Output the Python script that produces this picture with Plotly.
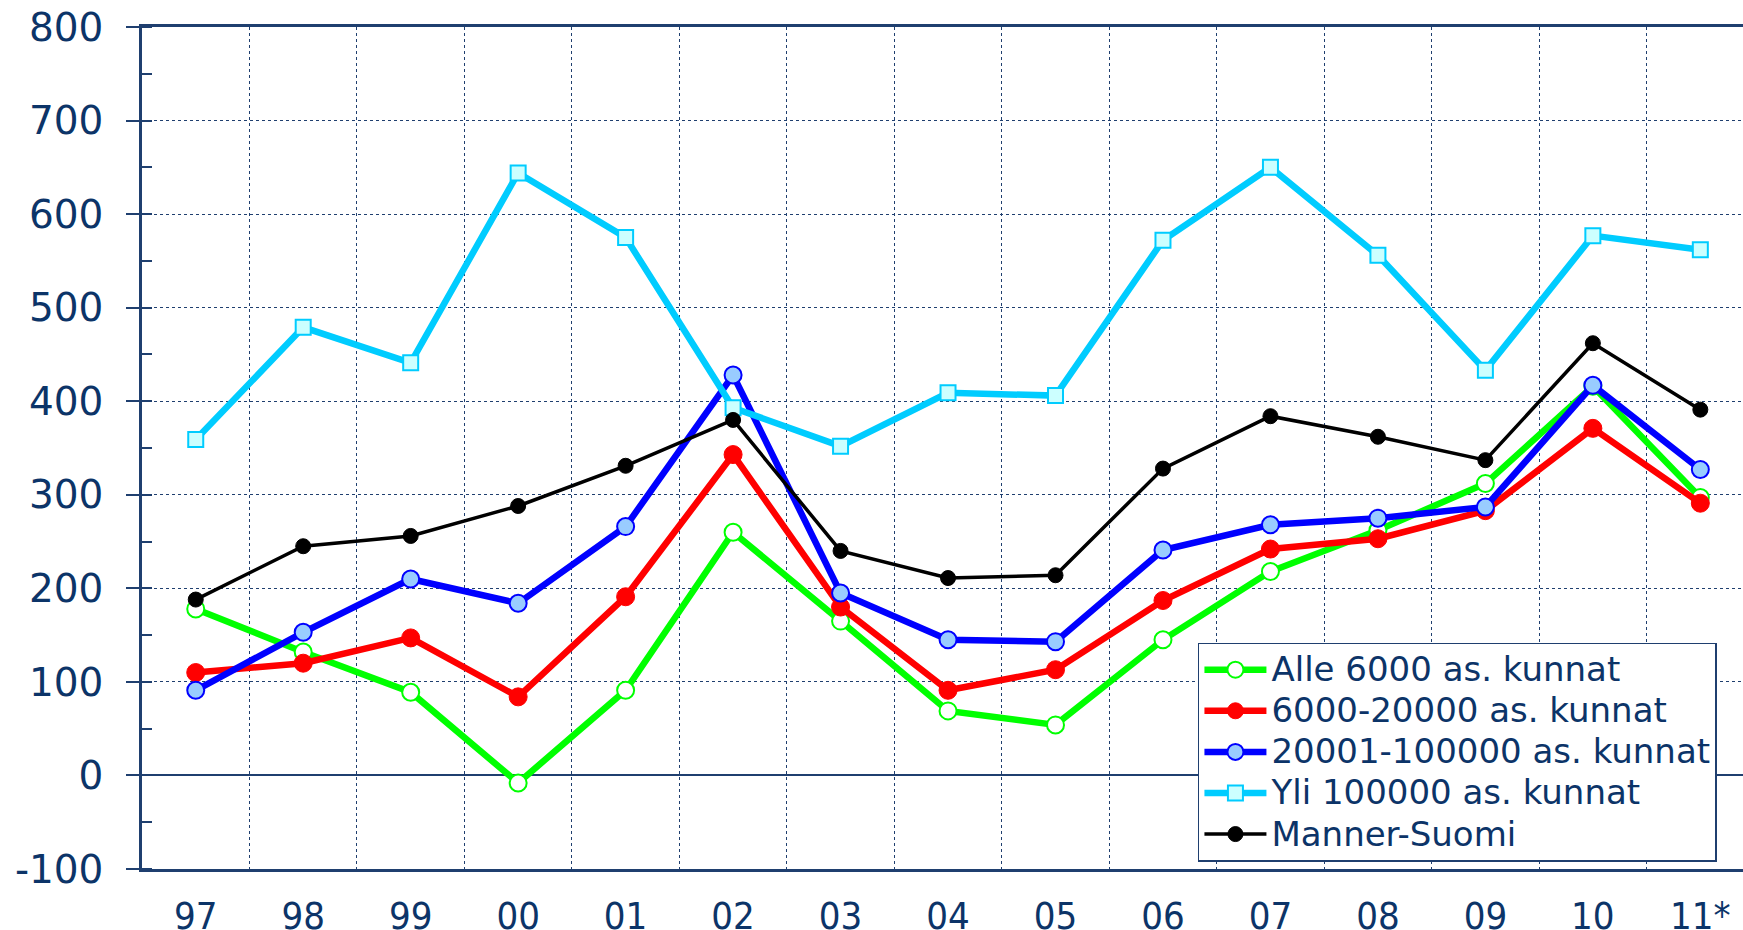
import plotly.graph_objects as go

categories = ["97", "98", "99", "00", "01", "02", "03", "04", "05", "06", "07", "08", "09", "10", "11*"]
y_tickvals = [-100, 0, 100, 200, 300, 400, 500, 600, 700, 800]
y_ticktext = ["-100", "0", "100", "200", "300", "400", "500", "600", "700", "800"]

alle_6000 = [178, 132, 89, -8, 91, 260, 165, 69, 54, 145, 218, 262, 312, 416, 297]
v6000_20000 = [110, 120, 147, 84, 191, 343, 180, 91, 113, 187, 242, 253, 283, 371, 291]
v20001_100000 = [91, 153, 210, 184, 266, 428, 195, 145, 143, 241, 268, 275, 287, 417, 327]
yli_100000 = [359, 479, 441, 644, 575, 393, 352, 409, 406, 572, 650, 556, 433, 577, 562]
manner_suomi = [188, 245, 256, 288, 331, 380, 240, 211, 214, 328, 384, 362, 337, 462, 391]

names = ["Alle 6000 as. kunnat", "6000-20000 as. kunnat", "20001-100000 as. kunnat",
         "Yli 100000 as. kunnat", "Manner-Suomi"]

TXT = "#0c3468"
AX = "#1f3f6f"


def lg(name):
    return "<span style='font-size:34px'>" + name + "</span>"


fig = go.Figure()

fig.add_trace(go.Scatter(
    x=categories, y=alle_6000, name=lg(names[0]), mode="lines+markers",
    line=dict(color="#00ff00", width=6.5),
    marker=dict(symbol="circle", size=17, color="#ffffff", line=dict(color="#00ff00", width=2))))
fig.add_trace(go.Scatter(
    x=categories, y=v6000_20000, name=lg(names[1]), mode="lines+markers",
    line=dict(color="#ff0000", width=6.5),
    marker=dict(symbol="circle", size=18, color="#ff0000", line=dict(color="#ff0000", width=1))))
fig.add_trace(go.Scatter(
    x=categories, y=v20001_100000, name=lg(names[2]), mode="lines+markers",
    line=dict(color="#0000ff", width=6.5),
    marker=dict(symbol="circle", size=17, color="#99ccff", line=dict(color="#0000ff", width=2))))
fig.add_trace(go.Scatter(
    x=categories, y=yli_100000, name=lg(names[3]), mode="lines+markers",
    line=dict(color="#00ccff", width=6.5),
    marker=dict(symbol="square", size=15, color="#ccffff", line=dict(color="#00ccff", width=2))))
fig.add_trace(go.Scatter(
    x=categories, y=manner_suomi, name=lg(names[4]), mode="lines+markers",
    line=dict(color="#000000", width=3.5),
    marker=dict(symbol="circle", size=15, color="#000000", line=dict(color="#000000", width=1))))

W, H = 1743, 930
L, R, T, B = 141.6, 0, 26.7, 60.7

fig.update_layout(
    width=W, height=H,
    margin=dict(l=L, r=R, t=T, b=B, pad=0, autoexpand=False),
    paper_bgcolor="white", plot_bgcolor="white",
    showlegend=True,
    legend=dict(
        x=(1197.8 - L) / (W - L - R), y=(869.3 - 642.8) / (H - T - B),
        xanchor="left", yanchor="top",
        bgcolor="white", bordercolor=AX, borderwidth=1.5,
        font=dict(family="DejaVu Sans, Verdana, sans-serif", size=29.3, color=TXT),
        itemwidth=62, tracegroupgap=0,
    ),
    xaxis=dict(
        type="category", range=[-0.5, 14.397],
        tickson="boundaries",
        showgrid=True, gridcolor=AX, griddash="dot", gridwidth=1,
        showline=True, linecolor=AX, linewidth=2.5, mirror=True,
        ticks="", ticklabelstandoff=12,
        tickfont=dict(family="DejaVu Sans Condensed, Roboto, sans-serif", size=38, color=TXT),
        fixedrange=True,
    ),
    yaxis=dict(
        range=[-100, 800], tickmode="array", tickvals=y_tickvals, ticktext=y_ticktext,
        showgrid=True, gridcolor=AX, griddash="dot", gridwidth=1,
        zeroline=True, zerolinecolor=AX, zerolinewidth=1.5,
        showline=True, linecolor=AX, linewidth=2.5,
        ticks="outside", ticklen=13, tickwidth=1.5, tickcolor=AX,
        ticklabelstandoff=15,
        minor=dict(dtick=50, tick0=0, ticks="inside", ticklen=10, tickwidth=1.5,
                   tickcolor=AX, showgrid=False),
        tickfont=dict(family="DejaVu Sans, Verdana, sans-serif", size=39, color=TXT),
        fixedrange=True,
    ),
)

fig.write_html("out.html", config={"displayModeBar": False},
               post_script="document.body.style.margin='0';document.body.style.overflow='hidden';")
